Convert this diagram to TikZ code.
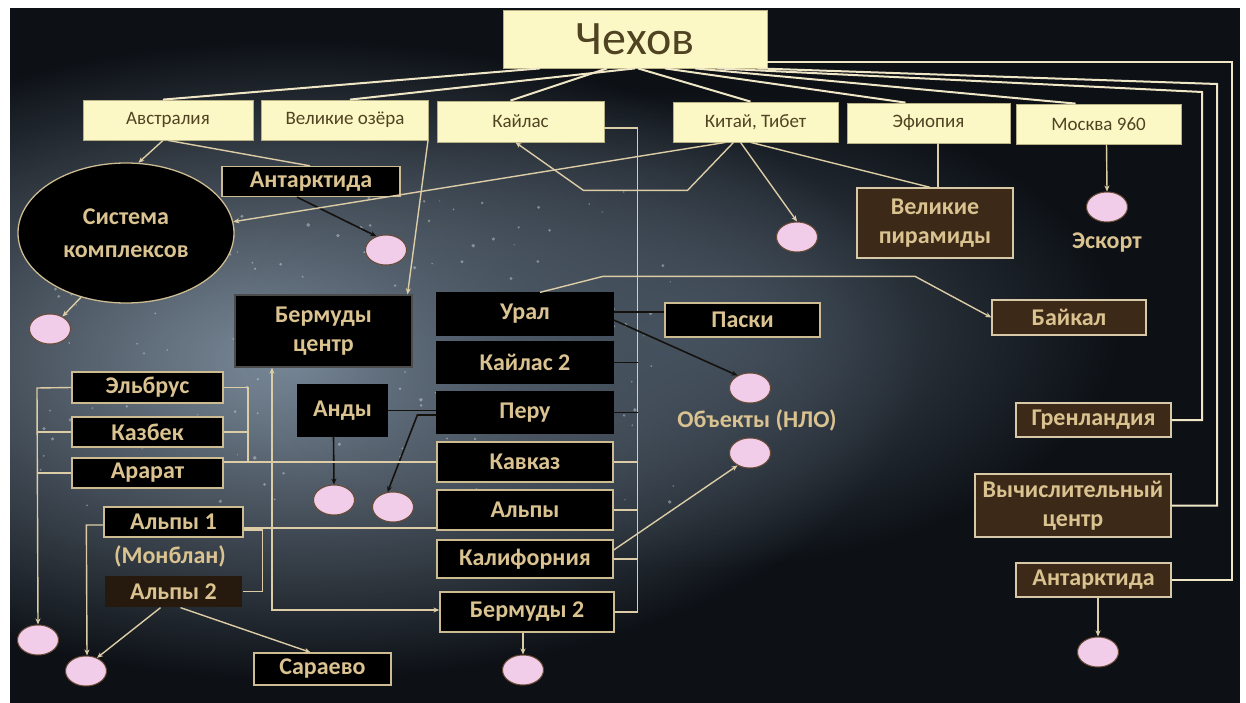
\documentclass[tikz,border=0pt]{standalone}
\usepackage{fontspec}
\setmainfont{Carlito}
\usetikzlibrary{arrows.meta,shapes.geometric,calc,fadings}
\definecolor{bgdark}{HTML}{0D1116}
\definecolor{glow}{HTML}{7D8D9D}
\definecolor{glowb}{HTML}{46525F}
\definecolor{cream}{HTML}{FCF8C6}
\definecolor{olive}{HTML}{4F4322}
\definecolor{tan}{HTML}{CDBB92}
\definecolor{goldtxt}{HTML}{DAC390}
\definecolor{brownfill}{HTML}{3C2917}
\definecolor{pinkf}{HTML}{F2CDEA}
\definecolor{pinkd}{HTML}{6A4A34}
\definecolor{linec}{HTML}{DCCDA6}
\definecolor{toplinec}{HTML}{EFE6C6}
\definecolor{darkline}{HTML}{15120E}
\tikzfading[name=softglow, inner color=transparent!0, outer color=transparent!100]
\begin{document}
\begin{tikzpicture}[x=1pt,y=-1pt,
  topbox/.style={draw=olive!40!cream, line width=0.8pt, fill=cream, text=olive,
    font=\fontsize{19}{21}\selectfont, inner sep=0pt},
  blackbox/.style={draw=tan, line width=1.3pt, fill=black, text=goldtxt,
    font=\fontsize{24}{29}\selectfont\bfseries, inner sep=0pt, align=center},
  plainbox/.style={blackbox, draw=black},
  brownbox/.style={blackbox, fill=brownfill, draw=tan!80!white},
  pinkel/.style={ellipse, draw=pinkd, line width=1pt, fill=pinkf, minimum width=41pt,
    minimum height=30pt, inner sep=0pt},
  lbl/.style={text=goldtxt, font=\fontsize{24}{28}\selectfont\bfseries, inner sep=0pt, align=center},
  conn/.style={draw=linec, line width=1.4pt},
  topconn/.style={draw=toplinec, line width=2pt},
  dconn/.style={draw=darkline, line width=1.6pt},
  arr/.style={-{Stealth[length=6pt,width=5pt]}}
]
\useasboundingbox (0,0) rectangle (1246,703);
% background
\fill[white] (0,0) rectangle (1246,703);
\fill[bgdark] (10,8) rectangle (1240,703);
\begin{scope}
\clip (10,8) rectangle (1240,703);
\fill[glow, path fading=softglow] (300,360) ellipse (620 and 320);
\fill[glowb, path fading=softglow] (680,330) ellipse (440 and 240);
\pgfmathsetseed{11}
\foreach \i in {1,...,160}{
  \pgfmathsetmacro{\sx}{40+rnd*640}
  \pgfmathsetmacro{\sy}{190+rnd*320}
  \pgfmathsetmacro{\sr}{0.6+rnd*1.4}
  \fill[white, opacity=0.35] (\sx,\sy) circle (\sr);
}
\end{scope}

% top row
\node[topbox, minimum width=264pt, minimum height=58pt, font=\fontsize{48}{50}\selectfont] (chekhov) at (635,39) {Чехов};
\node[topbox, minimum width=170pt, minimum height=40pt] (avstr) at (168,120) {Австралия};
\node[topbox, minimum width=167pt, minimum height=40pt] (ozera) at (345,120) {Великие озёра};
\node[topbox, minimum width=167pt, minimum height=41pt] (kailas) at (520.5,121.5) {Кайлас};
\node[topbox, minimum width=165pt, minimum height=40pt] (kitai) at (755.5,122) {Китай, Тибет};
\node[topbox, minimum width=163pt, minimum height=40pt] (efiop) at (928.5,123) {Эфиопия};
\node[topbox, minimum width=165pt, minimum height=40pt] (moskva) at (1098.5,124) {Москва 960};

% second level
\node[blackbox, minimum width=178pt, minimum height=30pt] (antL) at (311,181.5) {Антарктида};
\node[ellipse, draw=tan, line width=1.3pt, fill=black, text=goldtxt, minimum width=216pt,
  minimum height=140pt, inner sep=0pt, align=center, font=\fontsize{24}{33}\selectfont\bfseries]
  (sys) at (126,233) {Система\\комплексов};
\node[pinkel] (pA) at (386,250) {};
\node[pinkel] (pK) at (797,237) {};
\node[brownbox, minimum width=156pt, minimum height=70pt] (pyr) at (935,223) {Великие\\пирамиды};
\node[pinkel] (pM) at (1107,207) {};
\node[lbl] (esk) at (1107,243) {Эскорт};
\node[pinkel] (pS) at (50,329) {};

\node[blackbox, draw=gray!60!black, minimum width=177pt, minimum height=72pt] (bermc) at (323.5,331) {Бермуды\\центр};
\node[plainbox, minimum width=176pt, minimum height=42pt] (ural) at (525,314) {Урал};
\node[plainbox, minimum width=176pt, minimum height=41pt] (kailas2) at (525,362.5) {Кайлас 2};
\node[plainbox, minimum width=176pt, minimum height=41pt] (peru) at (525,412.5) {Перу};
\node[blackbox, minimum width=176pt, minimum height=40pt] (kavkaz) at (525,462) {Кавказ};
\node[blackbox, minimum width=176pt, minimum height=40pt] (alpy) at (525,510) {Альпы};
\node[blackbox, minimum width=176pt, minimum height=38pt] (kalif) at (525,559) {Калифорния};
\node[blackbox, minimum width=174pt, minimum height=40pt] (berm2) at (527,612) {Бермуды 2};
\node[pinkel] (pB) at (523,670) {};

\node[blackbox, minimum width=155pt, minimum height=34pt] (paski) at (742.5,320) {Паски};
\node[pinkel] (pU) at (750,388) {};
\node[lbl] (nlo) at (757,420) {Объекты (НЛО)};
\node[pinkel] (pN) at (750,453) {};

\node[brownbox, minimum width=154pt, minimum height=35pt] (baikal) at (1069,317.5) {Байкал};
\node[brownbox, minimum width=155pt, minimum height=34pt] (grenl) at (1093.5,420) {Гренландия};
\node[brownbox, minimum width=196pt, minimum height=63pt] (vych) at (1073,505.5) {Вычислительный\\центр};
\node[brownbox, minimum width=155pt, minimum height=34pt] (antR) at (1093.5,580) {Антарктида};
\node[pinkel] (pAR) at (1098,652) {};

\node[blackbox, minimum width=151pt, minimum height=31pt] (elbrus) at (147.5,387.5) {Эльбрус};
\node[blackbox, minimum width=151pt, minimum height=30pt] (kazbek) at (147.5,432) {Казбек};
\node[blackbox, minimum width=151pt, minimum height=30pt] (ararat) at (147.5,473) {Арарат};
\node[plainbox, minimum width=89pt, minimum height=51pt] (andy) at (342.5,410.5) {Анды};
\node[pinkel] (pAn) at (334,500) {};
\node[pinkel] (pP) at (393,507) {};
\node[blackbox, minimum width=139pt, minimum height=30pt] (alpy1) at (173.5,522) {Альпы 1};
\node[lbl] (monbl) at (170,556) {(Монблан)};
\node[plainbox, fill=black!80!brown, draw=none, minimum width=137pt, minimum height=31pt] (alpy2) at (173.5,591.5) {Альпы 2};
\node[pinkel] (pL1) at (38,640) {};
\node[pinkel] (pL2) at (86,671) {};
\node[blackbox, minimum width=137pt, minimum height=32pt] (saraj) at (322.5,669) {Сараево};

% connectors from Chekhov
\draw[topconn] ([xshift=-95pt]chekhov.south) -- ([xshift=-5pt]avstr.north);
\draw[topconn] (chekhov.south) -- ([xshift=5pt]ozera.north);
\draw[topconn] ([xshift=-28pt]chekhov.south) -- ([xshift=-10pt]kailas.north);
\draw[topconn] ([xshift=3pt]chekhov.south) -- ([xshift=-5pt]kitai.north);
\draw[topconn] ([xshift=30pt]chekhov.south) -- ([xshift=-23pt]efiop.north);
\draw[topconn] ([xshift=60pt]chekhov.south) -- ([xshift=-23pt]moskva.north);
\draw[topconn] ([yshift=-23pt]chekhov.east) -- ++(465,0) |- (antR.east);
\draw[topconn] ([xshift=-10pt]chekhov.south east) -- (1217,84) |- (vych.east);
\draw[topconn] ([xshift=-50pt]chekhov.south east) -- (1202,92) |- (grenl.east);

% other connectors
\draw[conn, arr] ([xshift=-5pt]avstr.south) -- (sys.80);
\draw[conn] (avstr.south) -- ([xshift=-1pt]antL.north);
\draw[dconn, arr] ([xshift=-14pt]antL.south) -- (pA.125);
\draw[conn, arr] ([xshift=83pt]ozera.south) -- ([xshift=84pt]bermc.north);
\draw[conn] ([yshift=-6.5pt]kailas.east) -- ++(33,0) |- (berm2.east);
\draw[conn] (kavkaz.east) -- ++(24,0);
\draw[conn] (alpy.east) -- ++(24,0);
\draw[conn] (kalif.east) -- ++(24,0);
\draw[dconn] (kailas2.east) -- ++(24,0);
\draw[dconn] (peru.east) -- ++(24,0);
\draw[dconn] ([yshift=2pt]ural.east) -- ([yshift=2pt]ural.east -| paski.west);
\draw[conn, arr] ([xshift=-22pt]kitai.south) -- ++(-46,48) -- ++(-104,0) -- ([xshift=-5pt]kailas.south);
\draw[conn, arr] ([xshift=-30pt]kitai.south) -- (sys.6);
\draw[conn, arr] ([xshift=-15pt]kitai.south) -- (pK.north);
\draw[conn] ([xshift=-5pt]kitai.south) -- ([xshift=-5pt]pyr.north);
\draw[conn] ([xshift=9.5pt]efiop.south) -- ([xshift=9.5pt]efiop.south |- pyr.north);
\draw[conn, arr] ([xshift=8pt]moskva.south) -- (pM.north);
\draw[conn, arr] (sys.235) -- (pS.45);
\draw[conn, arr] ([xshift=15pt]ural.north) -- ++(63,-16) -- ++(312,0) -- (baikal.west);
\draw[dconn, arr] ([yshift=-6pt]ural.east) -- (pU.135);
\draw[conn, {Stealth[length=6pt,width=5pt]}-{Stealth[length=6pt,width=5pt]}] ([xshift=-51.5pt]bermc.south) |- ([yshift=2pt]berm2.west);
\draw[dconn] (andy.east) -- (andy.east -| peru.west);
\draw[dconn, arr] ([xshift=-9pt]andy.south) -- (pAn.north);
\draw[dconn, arr] ([yshift=-2.5pt]peru.west) -- ++(-19,0) -- (pP.110);
\coordinate (brk) at (248,462);
\draw[conn] (elbrus.east) -| (brk) -- (brk -| kavkaz.west);
\draw[conn] (kazbek.east) -- (kazbek.east -| brk);
\draw[conn] ([yshift=11pt]ararat.east) -- (brk);
\coordinate (lbus) at (37,388);
\draw[conn, arr] (elbrus.west) -- (lbus) -- (pL1.north);
\draw[conn] (kazbek.west) -- (kazbek.west -| lbus);
\draw[conn] (ararat.west) -- (ararat.west -| lbus);
\draw[conn, arr] ([yshift=-3pt]alpy1.west) -- ++(-17,0) -- ([xshift=1pt]pL2.north);
\draw[conn] ([yshift=-6pt]alpy1.east) -- ([yshift=-6pt]alpy1.east -| alpy.west);
\draw[conn] ([yshift=-8pt]alpy1.east) -- ++(19,0) |- (alpy2.east);
\draw[conn, arr] ([xshift=-13pt]alpy2.south) -- (pL2.50);
\draw[conn, arr] ([xshift=7pt]alpy2.south) -- ([xshift=-12pt]saraj.north);
\draw[conn, arr] ([yshift=9pt]kalif.east) -- (pN.225);
\draw[conn, arr] ([xshift=-4pt]berm2.south) -- (pB.north);
\draw[conn, arr] ([xshift=4.5pt]antR.south) -- (pAR.north);
\end{tikzpicture}
\end{document}
